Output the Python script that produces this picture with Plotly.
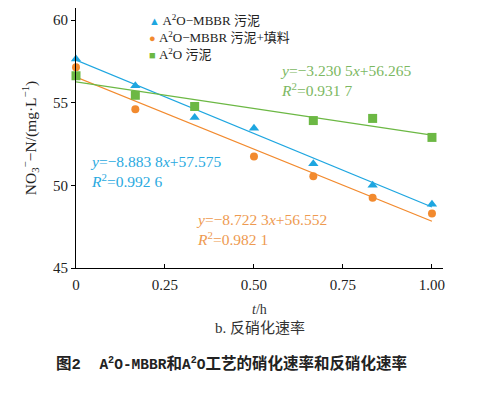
import plotly.graph_objects as go

t_h = [0, 1/6, 2/6, 3/6, 4/6, 5/6, 1.0]
mbbr = [57.65, 56.02, 54.10, 53.45, 51.30, 50.00, 48.85]
mbbr_fill = [57.15, 54.60, None, 51.75, 50.55, 49.25, 48.30]
a2o = [56.63, 55.45, 54.77, None, 53.92, 54.05, 52.90]

names = ["A<sup>2</sup>O−MBBR 污泥", "A<sup>2</sup>O−MBBR 污泥+填料", "A<sup>2</sup>O 污泥"]
slopes = [-8.8838, -8.7223, -3.2305]
intercepts = [57.575, 56.552, 56.265]
r2 = ["0.992 6", "0.982 1", "0.931 7"]
eq_text = ["−8.883 8", "−8.722 3", "−3.230 5"]
icpt_text = ["57.575", "56.552", "56.265"]

colors = ["#1ea6e0", "#f28a2e", "#6cb844"]
text_colors = ["#2aa9e0", "#ee9a50", "#7cb862"]
symbols = ["triangle-up", "circle", "square"]
legend_glyphs = ["▲", "●", "■"]
sizes = [9, 8, 9]
series = [mbbr, mbbr_fill, a2o]

FONT = "Liberation Serif, Times New Roman, Noto Sans CJK SC, serif"

fig = go.Figure()
fit_x = [0, 1.0]
for i in range(3):
    fig.add_trace(go.Scatter(
        x=fit_x, y=[intercepts[i] + slopes[i] * xx for xx in fit_x],
        mode="lines", line=dict(color=colors[i], width=1.3),
        showlegend=False, hoverinfo="skip"))
for i in range(3):
    fig.add_trace(go.Scatter(
        x=t_h, y=series[i], mode="markers", name=names[i],
        marker=dict(symbol=symbols[i], size=sizes[i], color=colors[i]),
        showlegend=False, cliponaxis=False))

# compact legend as one multi-line text block
legend_lines = [
    f"<span style='color:{colors[i]};font-size:11px'>{legend_glyphs[i]}</span> {names[i]}"
    for i in range(3)
]
fig.add_annotation(
    x=0.193, y=0.889, xref="paper", yref="paper", xanchor="left", yanchor="middle",
    showarrow=False, align="left", text="<br>".join(legend_lines),
    font=dict(family=FONT, size=13, color="#222"))

ann_pos = [(0.034, 52.07), (0.332, 48.56), (0.568, 57.59)]
for i in range(3):
    ax, ay = ann_pos[i]
    fig.add_annotation(
        x=ax, y=ay, xref="x", yref="y", xanchor="left", yanchor="top",
        showarrow=False, align="left",
        text=f"<i>y</i>={eq_text[i]}<i>x</i>+{icpt_text[i]}<br><i>R</i><sup>2</sup>={r2[i]}",
        font=dict(family=FONT, size=15.5, color=text_colors[i]))

fig.add_annotation(x=0.5, y=-0.16, xref="paper", yref="paper", showarrow=False,
                   yanchor="middle",
                   text="<i>t</i>/h", font=dict(family=FONT, size=14, color="#333"))
fig.add_annotation(x=0.5, y=-0.23, xref="paper", yref="paper", showarrow=False,
                   yanchor="middle",
                   text="b. 反硝化速率", font=dict(family=FONT, size=15, color="#333"))
lat = "<span style='font-size:14.5px'>"
fig.add_annotation(x=0.425, y=-0.368, xref="paper", yref="paper", showarrow=False,
                   yanchor="middle",
                   text=(f"<b>图2  {lat}A<sup>2</sup>O-MBBR</span>和"
                         f"{lat}A<sup>2</sup>O</span>工艺的硝化速率和反硝化速率</b>"),
                   font=dict(family="Liberation Mono, Noto Sans CJK SC, monospace", size=15.5, color="#222"))

fig.update_layout(
    width=469, height=389,
    margin=dict(l=68, r=34, t=0, b=129, autoexpand=False),
    paper_bgcolor="white", plot_bgcolor="white",
    font=dict(family=FONT, size=14, color="#222"),
    showlegend=False,
    xaxis=dict(range=[0, 1.031], tickvals=[0, 0.25, 0.5, 0.75, 1.0],
               ticktext=["0", "0.25", "0.50", "0.75", "1.00"], automargin=False,
               showline=True, linecolor="black", linewidth=1.2, ticks="inside",
               ticklen=4, tickcolor="black", showgrid=False, zeroline=False,
               ticklabelstandoff=3,
               tickfont=dict(size=15)),
    yaxis=dict(range=[45, 60.73], tickvals=[45, 50, 55, 60], automargin=False,
               showline=True, linecolor="black", linewidth=1.2, ticks="outside",
               ticklen=4, tickcolor="black", showgrid=False, zeroline=False,
               tickfont=dict(size=15),
               title=dict(text="NO<sub>3</sub><sup>−</sup>−N/(mg·L<sup>−1</sup>)",
                          font=dict(size=15.5), standoff=12)),
)

fig.write_html("out.html")
